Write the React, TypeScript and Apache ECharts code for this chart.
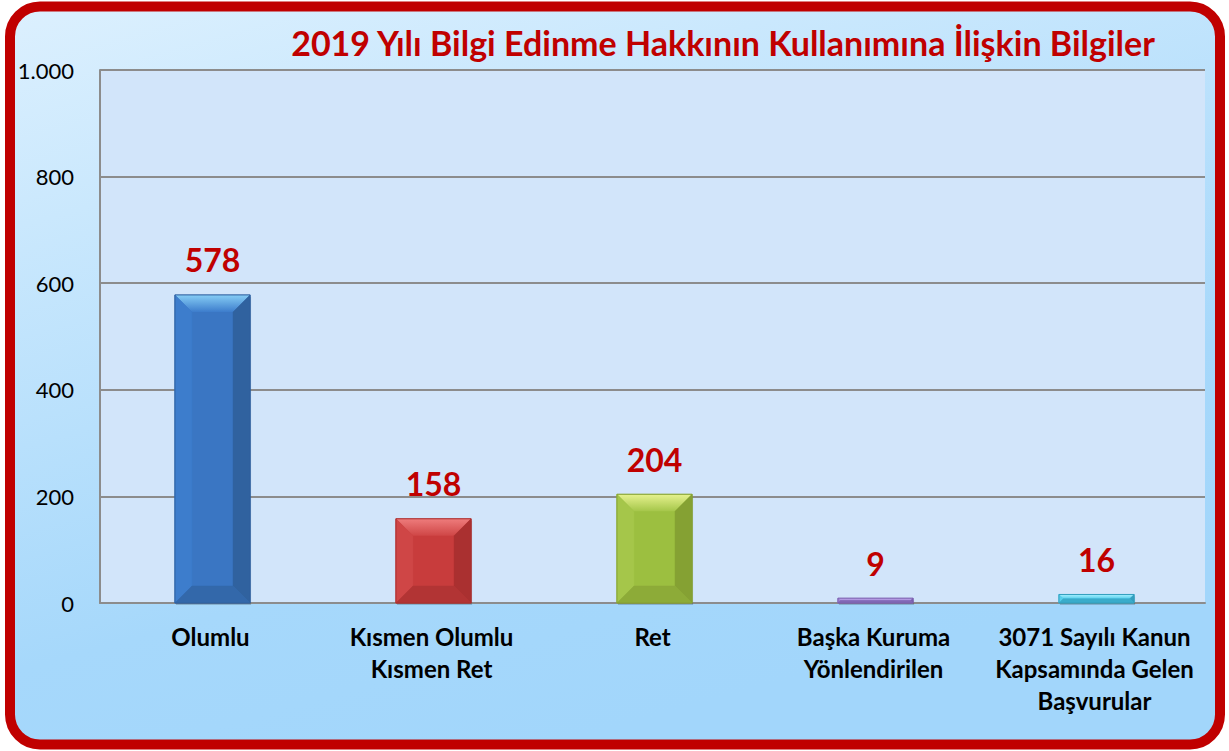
import React, { useEffect, useRef } from "react";
import * as echarts from "echarts";

const categories = [
  "Olumlu",
  "Kısmen Olumlu\nKısmen Ret",
  "Ret",
  "Başka Kuruma\nYönlendirilen",
  "3071 Sayılı Kanun\nKapsamında Gelen\nBaşvurular",
];
const values = [578, 158, 204, 9, 16];
const yTicks = { min: 0, max: 1000, interval: 200 };
// top, left, front, right, bottom faces
const barPalette = [
  { top: "#86cdf5", left: "#3d7dcc", front: "#3a76c3", right: "#30629f", bottom: "#3368aa" },
  { top: "#ee7c7c", left: "#cf4646", front: "#c83c3c", right: "#aa3030", bottom: "#b23434" },
  { top: "#e6f28e", left: "#a5c64a", front: "#9cbf40", right: "#85a133", bottom: "#8dab38" },
  { top: "#c9b4f2", left: "#a084d4", front: "#9a7fd0", right: "#7a60ae", bottom: "#8268b6" },
  { top: "#a8f0ff", left: "#56cfec", front: "#4cc8e8", right: "#349fbe", bottom: "#3aacca" },
];
const title = "2019 Yılı Bilgi Edinme Hakkının Kullanımına İlişkin Bilgiler";

export default function App() {
  const ref = useRef<HTMLDivElement>(null);
  useEffect(() => {
    document.body.style.margin = "0";
    const chart = echarts.init(ref.current!, null, { renderer: "svg" });
    const font = "Lato, 'Open Sans', sans-serif";

    const renderBevelBar = (params: any, api: any) => {
      const i = api.value(0);
      const v = api.value(1);
      const top = api.coord([i, v]);
      const base = api.coord([i, 0]);
      const w = api.size([1, 0])[0] * 0.34;
      const x0 = top[0] - w / 2 + 2;
      const x1 = top[0] + w / 2 + 2;
      const y0 = top[1];
      const y1 = base[1];
      const h = y1 - y0;
      const b = Math.min(17, h / 2, w / 2);
      const c = barPalette[i];
      const poly = (points: number[][], fill: any) => ({
        type: "polygon",
        shape: { points },
        style: { fill, stroke: typeof fill === "string" ? fill : null, lineWidth: 0.5 },
      });
      const topFill = new echarts.graphic.LinearGradient(0, 0, 0, 1, [
        { offset: 0, color: c.top },
        { offset: 1, color: c.left },
      ]);
      return {
        type: "group",
        children: [
          {
            type: "rect",
            shape: { x: x0 + 1, y: y0 + 2, width: w, height: h },
            style: { fill: "rgba(0,0,0,0.18)" },
          },
          poly([[x0, y0], [x1, y0], [x1, y1], [x0, y1]], c.front),
          poly([[x0, y0], [x1, y0], [x1 - b, y0 + b], [x0 + b, y0 + b]], topFill),
          poly([[x0, y0], [x0 + b, y0 + b], [x0 + b, y1 - b], [x0, y1]], c.left),
          poly([[x1, y0], [x1, y1], [x1 - b, y1 - b], [x1 - b, y0 + b]], c.right),
          poly([[x0, y1], [x0 + b, y1 - b], [x1 - b, y1 - b], [x1, y1]], c.bottom),
          {
            type: "rect",
            shape: { x: x0, y: y0, width: w, height: h },
            style: { fill: "none", stroke: c.right, lineWidth: 1 },
          },
        ],
      };
    };

    chart.setOption({
      animation: false,
      graphic: [
        {
          type: "rect",
          z: -10,
          silent: true,
          shape: { x: 10, y: 6.5, width: 1210, height: 738, r: 30 },
          style: {
            fill: new echarts.graphic.LinearGradient(0, 0, 0.45, 1, [
              { offset: 0, color: "#dcf0fe" },
              { offset: 0.75, color: "#a6d8fb" },
              { offset: 1, color: "#a2d6fb" },
            ]),
            stroke: "#c00000",
            lineWidth: 10,
          },
        },
      ],
      title: {
        text: title,
        left: 718,
        top: 20,
        textAlign: "center",
        textStyle: { color: "#c00000", fontFamily: font, fontWeight: "bold", fontSize: 34 },
      },
      grid: {
        left: 100,
        right: 24,
        top: 70,
        bottom: 148,
        show: true,
        backgroundColor: "#d2e5fa",
        borderWidth: 0,
      },
      xAxis: {
        type: "category",
        data: categories,
        axisLine: { show: true, lineStyle: { color: "#8c8c8c", width: 2 } },
        axisTick: { show: false },
        axisLabel: {
          interval: 0,
          margin: 17,
          color: "#000",
          fontFamily: font,
          fontWeight: "bold",
          fontSize: 24,
          lineHeight: 32,
        },
      },
      yAxis: {
        type: "value",
        ...yTicks,
        axisLine: { show: true, lineStyle: { color: "#8c8c8c", width: 2 } },
        axisTick: { show: false },
        splitLine: { lineStyle: { color: "#8c8c8c", width: 2 } },
        axisLabel: {
          margin: 26,
          color: "#000",
          fontFamily: font,
          fontSize: 22,
          formatter: (v: number) => v.toLocaleString("tr-TR"),
        },
      },
      series: [
        {
          type: "bar",
          barWidth: "34%",
          data: values,
          itemStyle: { color: "rgba(0,0,0,0)" },
          label: {
            show: true,
            position: "top",
            distance: 19,
            offset: [2, 0],
            color: "#c00000",
            fontFamily: font,
            fontWeight: "bold",
            fontSize: 32,
          },
          z: 3,
        },
        {
          type: "custom",
          renderItem: renderBevelBar,
          encode: { x: 0, y: 1 },
          data: values.map((v, i) => [i, v]),
          z: 2,
        },
      ],
    });
    return () => chart.dispose();
  }, []);
  return <div ref={ref} style={{ width: 1229, height: 751 }} />;
}
